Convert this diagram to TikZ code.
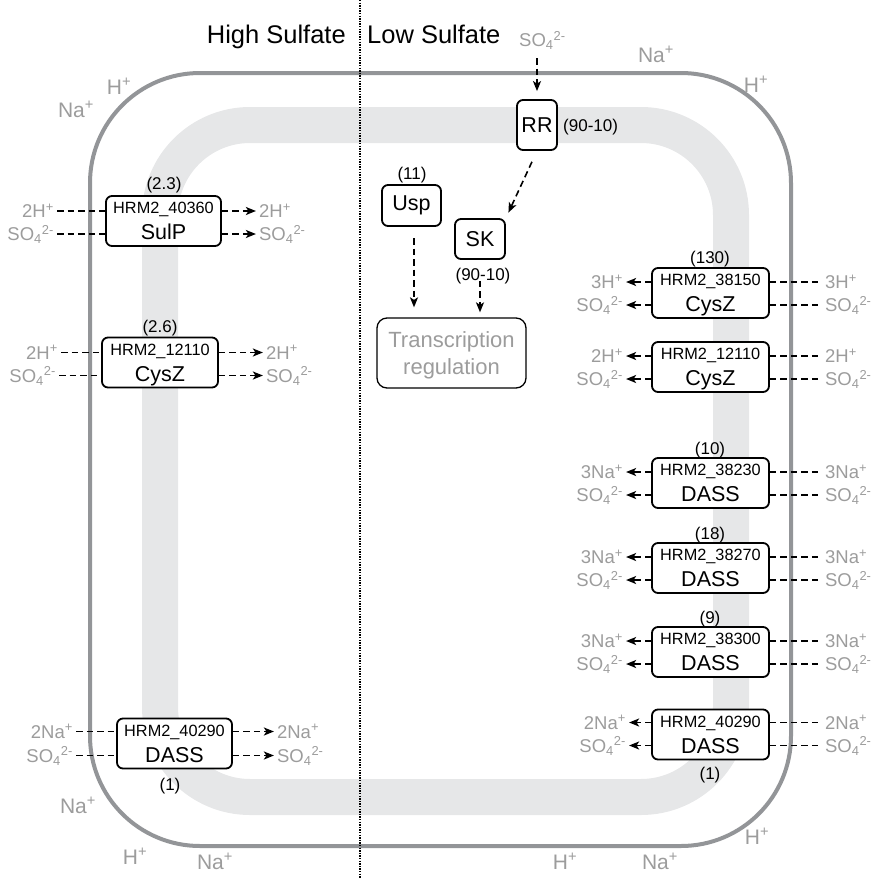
\documentclass[tikz,border=0pt]{standalone}
\usepackage{fontspec}
\setmainfont{Liberation Sans}
\usetikzlibrary{calc,arrows.meta}
\definecolor{ionc}{HTML}{9C9C9C}
\definecolor{memc}{HTML}{939598}
\definecolor{bandc}{HTML}{E6E7E8}
\newcommand\ionH[1]{#1H\textsuperscript{+}}
\newcommand\ionNa[1]{#1Na\textsuperscript{+}}
\newcommand\sulf{SO\textsubscript{4}\textsuperscript{2-}}
\newcommand\lrow[6]{%
  \coordinate (#2w) at ($(#1.west)+(0,#3)$);
  \coordinate (#2e) at ($(#1.east)+(0,#3)$);
  \node[ion,anchor=east] (#2L) at ($(#2w)+(#5,0)$) {#4};
  \node[ion,anchor=west] (#2R) at ($(#2e)+(#6,0)$) {#4};
  \draw[dsh] (#2L.east) -- (#2w);
  \draw[dsh,arr] (#2e) -- (#2R.west);
}
\newcommand\rrow[6]{%
  \coordinate (#2w) at ($(#1.west)+(0,#3)$);
  \coordinate (#2e) at ($(#1.east)+(0,#3)$);
  \node[ion,anchor=east] (#2L) at ($(#2w)+(#5,0)$) {#4};
  \node[ion,anchor=west] (#2R) at ($(#2e)+(#6,0)$) {#4};
  \draw[dsh,arr] (#2w) -- (#2L.east);
  \draw[dsh] (#2e) -- (#2R.west);
}
\newcommand\tbox[6]{% name, cx, cy, width, id, label
  \node[tbx,minimum width=#4] (#1) at (#2,#3) {};
  \node[idt] (#1id) at ($(#1)+(0,-13)$) {#5};
  \node[lbt] (#1lb) at ($(#1)+(0,11)$) {#6};
}
\begin{document}
\begin{tikzpicture}[x=1pt,y=-1pt,
  ion/.style={text=ionc,font=\fontsize{18.5}{20}\selectfont,text height=13.2pt,text depth=0pt,inner sep=3pt},
  mion/.style={text=ionc,font=\fontsize{21}{24}\selectfont,text height=15pt,text depth=0pt,inner sep=0pt},
  cnt/.style={font=\fontsize{17}{19}\selectfont,text height=12.2pt,text depth=0pt,inner sep=0pt},
  idt/.style={font=\fontsize{16.3}{18}\selectfont,text height=11.7pt,text depth=0pt,inner sep=0pt},
  lbt/.style={font=\fontsize{21.5}{24}\selectfont,text height=15.4pt,text depth=0pt,inner sep=0pt},
  tbx/.style={draw=black,line width=1.8pt,rounded corners=6pt,fill=white,minimum height=50,inner sep=0pt},
  sbx/.style={draw=black,line width=1.8pt,rounded corners=6pt,fill=white,inner sep=0pt,font=\fontsize{21.5}{24}\selectfont},
  dsh/.style={line width=1.6pt,dash pattern=on 6.5pt off 4pt},
  arr/.style={-{Stealth[length=10pt,width=8pt,inset=2.5pt]}},
  head/.style={font=\fontsize{25.5}{30}\selectfont,inner sep=0pt}
]
\useasboundingbox (0,0) rectangle (876,878);
% band and membrane
\draw[bandc,line width=36pt,rounded corners=90pt] (160,125) rectangle (731,797);
\draw[memc,line width=4pt,rounded corners=110pt] (90,73) rectangle (791,846);
% divider
\draw[line width=1.6pt,dash pattern=on 1.3pt off 1.3pt] (360,0) -- (360,878);
\node[head,anchor=base east] (hs) at (346,43) {High Sulfate};
\node[head,anchor=base west] (ls) at (367,43) {Low Sulfate};
% membrane ions
\node[mion] (m1) at (119,87) {\ionH{}};
\node[mion] (m2) at (76,110) {\ionNa{}};
\node[mion] (m3) at (656,55) {\ionNa{}};
\node[mion] (m4) at (756,85) {\ionH{}};
\node[mion] (m5) at (757,837) {\ionH{}};
\node[mion] (m6) at (565,862) {\ionH{}};
\node[mion] (m7) at (660,862) {\ionNa{}};
\node[mion] (m8) at (78,806) {\ionNa{}};
\node[mion] (m9) at (135,857) {\ionH{}};
\node[mion] (m10) at (215,862) {\ionNa{}};
% high sulfate transporters
\tbox{sulp}{163.5}{221}{115}{HRM2\_40360}{SulP}
\node[cnt] (c1) at (164,183) {(2.3)};
\lrow{sulp}{s1}{-10}{\ionH{2}}{-48}{34}
\lrow{sulp}{s2}{13}{\sulf}{-48}{34}
\tbox{cysl}{160}{362.5}{116}{HRM2\_12110}{CysZ}
\node[cnt] (c2) at (160,326) {(2.6)};
\lrow{cysl}{s3}{-10}{\ionH{2}}{-40}{44}
\lrow{cysl}{s4}{13}{\sulf}{-42}{44}
\tbox{dassl}{174.5}{743.5}{115}{HRM2\_40290}{DASS}
\node[cnt] (c3) at (170,784) {(1)};
\lrow{dassl}{s5}{-12}{\ionNa{2}}{-40}{41}
\lrow{dassl}{s6}{12}{\sulf}{-40}{41}
% low sulfate transporters
\tbox{r1}{710.5}{293}{117}{HRM2\_38150}{CysZ}
\node[cnt] (c4) at (710,257) {(130)};
\rrow{r1}{t1}{-11}{\ionH{3}}{-25}{52}
\rrow{r1}{t2}{12}{\sulf}{-25}{52}
\tbox{r2}{710.5}{367}{117}{HRM2\_12110}{CysZ}
\rrow{r2}{t3}{-11}{\ionH{2}}{-25}{52}
\rrow{r2}{t4}{12}{\sulf}{-25}{52}
\tbox{r3}{710.5}{483}{117}{HRM2\_38230}{DASS}
\node[cnt] (c5) at (710,448) {(10)};
\rrow{r3}{t5}{-11}{\ionNa{3}}{-25}{52}
\rrow{r3}{t6}{12}{\sulf}{-25}{52}
\tbox{r4}{710.5}{568}{117}{HRM2\_38270}{DASS}
\node[cnt] (c6) at (710,533) {(18)};
\rrow{r4}{t7}{-11}{\ionNa{3}}{-25}{52}
\rrow{r4}{t8}{12}{\sulf}{-25}{52}
\tbox{r5}{710.5}{652}{117}{HRM2\_38300}{DASS}
\node[cnt] (c7) at (710,617) {(9)};
\rrow{r5}{t9}{-11}{\ionNa{3}}{-25}{52}
\rrow{r5}{t10}{12}{\sulf}{-25}{52}
\tbox{r6}{710.5}{734.5}{117}{HRM2\_40290}{DASS}
\node[cnt] (c8) at (710,773) {(1)};
\rrow{r6}{t11}{-12}{\ionNa{2}}{-22}{52}
\rrow{r6}{t12}{11}{\sulf}{-22}{52}
% signalling
\node[ion,anchor=west,inner sep=0pt] (so4) at (519,40) {\sulf};
\node[sbx,minimum width=40,minimum height=50] (rr) at (537,125) {RR};
\node[cnt,anchor=west] (c9) at (563,125) {(90-10)};
\node[sbx,minimum width=50,minimum height=40] (sk) at (480,239) {SK};
\node[cnt] (c10) at (483,274) {(90-10)};
\node[sbx,minimum width=59,minimum height=41] (usp) at (411.5,205.5) {Usp};
\node[cnt] (c11) at (412,173) {(11)};
\node[draw=black,line width=1.3pt,rounded corners=10pt,minimum width=149,minimum height=70,inner sep=0pt] (tr) at (451.5,353) {};
\node[lbt,text=ionc,font=\fontsize{22}{26}\selectfont,text height=15.8pt] (tr1) at (451.5,340) {Transcription};
\node[lbt,text=ionc,font=\fontsize{22}{26}\selectfont,text height=15.8pt] (tr2) at (451.5,367) {regulation};
\coordinate (so4b) at (537,58);
\draw[dsh,arr,shorten >=8pt] (so4b) -- (rr.north);
\draw[dsh,arr,shorten <=12pt,shorten >=6pt] (rr.south) -- (sk.north east);
\draw[dsh,arr,shorten <=21pt,shorten >=5pt] (sk.south) -- (sk.south |- tr.north);
\coordinate (uspb) at (414,226);
\draw[dsh,arr,shorten <=12pt,shorten >=10pt] (uspb) -- (uspb |- tr.north);
\end{tikzpicture}
\end{document}
